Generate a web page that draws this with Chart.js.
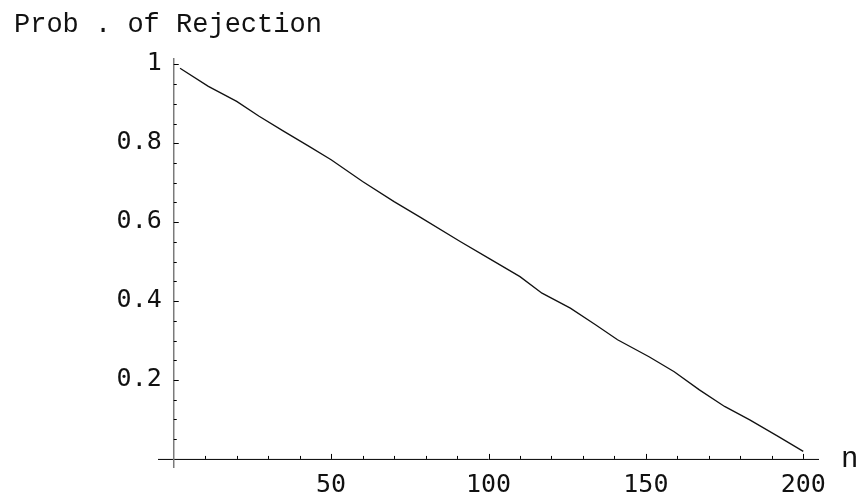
<!DOCTYPE html>
<html>
<head>
<meta charset="utf-8">
<script src="https://cdn.jsdelivr.net/npm/chart.js@4.4.1/dist/chart.umd.min.js"></script>
<style>
  html, body { margin: 0; padding: 0; background: #fff; }
  #wrap { width: 863px; height: 501px; }
</style>
</head>
<body>
<div id="wrap"><canvas id="rejectionPlot" width="863" height="501"></canvas></div>
<script>
// sample sizes
const sampleSizes = [2, 11, 20, 27, 35, 43, 50, 60, 70, 78, 91, 100, 110, 117, 126, 134, 141, 151, 159, 167, 175, 183, 192, 200]
const rejectionProb = [0.990, 0.944, 0.906, 0.869, 0.830, 0.792, 0.758, 0.703, 0.652, 0.614, 0.551, 0.509, 0.462, 0.420, 0.382, 0.340, 0.302, 0.259, 0.221, 0.175, 0.133, 0.099, 0.057, 0.019]

// axis ticks (Mathematica style)
const xMajorTicks = [50, 100, 150, 200]
const xMinorTicks = [10, 20, 30, 40, 60, 70, 80, 90, 110, 120, 130, 140, 160, 170, 180, 190]
const yMajorTicks = [0.2, 0.4, 0.6, 0.8, 1]
const yTickLabels = ['0.2', '0.4', '0.6', '0.8', '1']
const yMinorTicks = [0.05, 0.1, 0.15, 0.25, 0.3, 0.35, 0.45, 0.5, 0.55, 0.65, 0.7, 0.75, 0.85, 0.9, 0.95]

const axisLabelY = 'Prob . of Rejection'
const axisLabelX = 'n'

// draws the crossing axes, ticks and labels from the chart scales
const mmaAxes = {
  id: 'mmaAxes',
  beforeDatasetsDraw(chart) {
    const { ctx, scales: { x, y } } = chart
    const x0 = x.getPixelForValue(0)
    const y0 = y.getPixelForValue(0)
    ctx.save()

    // x axis
    ctx.strokeStyle = '#000'
    ctx.lineWidth = 1
    ctx.beginPath()
    ctx.moveTo(x.getPixelForValue(x.min), y0 + 0.5)
    ctx.lineTo(x.getPixelForValue(x.max), y0 + 0.5)
    ctx.stroke()

    // y axis
    ctx.strokeStyle = '#7a7a7a'
    ctx.lineWidth = 1.5
    ctx.beginPath()
    ctx.moveTo(x0, y.getPixelForValue(y.min))
    ctx.lineTo(x0, y.getPixelForValue(y.max))
    ctx.stroke()

    ctx.strokeStyle = '#000'
    ctx.lineWidth = 1
    xMajorTicks.forEach((v) => {
      const px = Math.round(x.getPixelForValue(v)) + 0.5
      ctx.beginPath(); ctx.moveTo(px, y0); ctx.lineTo(px, y0 - 5); ctx.stroke()
    })
    xMinorTicks.forEach((v) => {
      const px = Math.round(x.getPixelForValue(v)) + 0.5
      ctx.beginPath(); ctx.moveTo(px, y0); ctx.lineTo(px, y0 - 3); ctx.stroke()
    })
    yMajorTicks.forEach((v) => {
      const py = Math.round(y.getPixelForValue(v)) + 0.5
      ctx.beginPath(); ctx.moveTo(x0, py); ctx.lineTo(x0 + 5, py); ctx.stroke()
    })
    yMinorTicks.forEach((v) => {
      const py = Math.round(y.getPixelForValue(v)) + 0.5
      ctx.beginPath(); ctx.moveTo(x0, py); ctx.lineTo(x0 + 3, py); ctx.stroke()
    })

    // tick labels
    ctx.fillStyle = '#111'
    ctx.font = '25px "DejaVu Sans Mono"'
    ctx.textAlign = 'center'
    ctx.textBaseline = 'alphabetic'
    xMajorTicks.forEach((v) => {
      ctx.fillText(String(v), x.getPixelForValue(v), y0 + 33)
    })
    ctx.textAlign = 'right'
    ctx.textBaseline = 'middle'
    yMajorTicks.forEach((v, i) => {
      ctx.fillText(yTickLabels[i], x0 - 12, y.getPixelForValue(v) - 1)
    })

    // axis labels
    ctx.textAlign = 'left'
    ctx.textBaseline = 'alphabetic'
    ctx.font = '27px "Liberation Mono"'
    ctx.fillText(axisLabelY, 14, 32)
    ctx.font = '29px "Liberation Mono"'
    ctx.fillText(axisLabelX, 841, 467)

    ctx.restore()
  }
}

document.addEventListener('DOMContentLoaded', () => {
  const ctx = document.querySelector('#rejectionPlot')
  const points = sampleSizes.map((n, i) => ({ x: n, y: rejectionProb[i] }))

  new Chart(ctx, {
    type: 'line',
    data: {
      datasets: [{
        data: points,
        borderColor: '#111',
        borderWidth: 1.3,
        pointRadius: 0,
        tension: 0,
        fill: false
      }]
    },
    options: {
      responsive: false,
      animation: false,
      events: [],
      layout: { padding: { left: 158, right: 44, top: 58, bottom: 33 } },
      plugins: {
        legend: { display: false },
        tooltip: { enabled: false }
      },
      scales: {
        x: { type: 'linear', min: -5, max: 205, display: false },
        y: { type: 'linear', min: -0.023, max: 1.016, display: false }
      }
    },
    plugins: [mmaAxes]
  })
})
</script>
</body>
</html>
